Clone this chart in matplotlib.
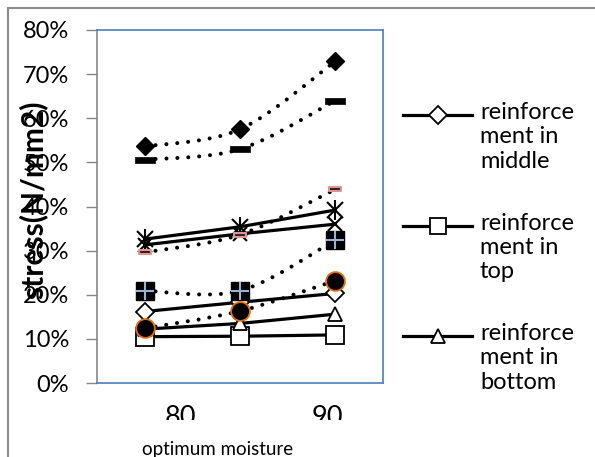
import numpy as np
import matplotlib
matplotlib.use("Agg")
import matplotlib.pyplot as plt
from matplotlib.path import Path
from matplotlib.patches import PathPatch
from matplotlib.lines import Line2D
from matplotlib.transforms import Bbox, TransformedBbox
from matplotlib.ticker import FuncFormatter

plt.rcParams["font.family"] = ["Lato", "DejaVu Sans"]

# ---- data -------------------------------------------------------------
x_pos = [0, 1, 2]
x_tick_labels = ["80", "90"]
y_ticks = [0.0, 0.1, 0.2, 0.3, 0.4, 0.5, 0.6, 0.7, 0.8]

legend_labels = ["reinforce\nment in\nmiddle",
                 "reinforce\nment in\ntop",
                 "reinforce\nment in\nbottom"]

middle = [0.162, 0.183, 0.203]
top = [0.105, 0.106, 0.109]
bottom = [0.122, 0.135, 0.156]
star_series = [0.326, 0.354, 0.392]
cross_series = [0.313, 0.338, 0.360]
diamond_fill = [0.536, 0.575, 0.729]
dash_black = [0.506, 0.530, 0.640]
dash_pink = [0.296, 0.336, 0.439]
square_fill = [0.209, 0.209, 0.324]
circle_fill = [0.124, 0.163, 0.232]

# ---- figure -----------------------------------------------------------
W, H = 595, 457
fig = plt.figure(figsize=(W / 100, H / 100), dpi=100)
fig.patch.set_facecolor("white")

L, R, T, B = 97, 383, 30, 383
ax = fig.add_axes([L / W, 1 - B / H, (R - L) / W, (B - T) / H])
ax.set_xlim(-0.5, 2.5)
ax.set_ylim(0, 0.8)

BLUE = "#4a7ebb"
GRAY = "#868686"
for side in ("top", "right", "bottom"):
    ax.spines[side].set_color(BLUE)
    ax.spines[side].set_linewidth(1.2)
ax.spines["left"].set_color(GRAY)
ax.spines["left"].set_linewidth(1.2)

ax.set_yticks(y_ticks)
ax.yaxis.set_major_formatter(FuncFormatter(lambda v, p: f"{v * 100:.0f}%"))
ax.tick_params(axis="y", direction="out", length=8, width=1, color=GRAY,
               labelsize=17, pad=12, labelcolor="black")
ax.set_xticks([])


def smooth_path(xs, ys):
    """Bezier path through the points, Excel-style smoothing."""
    pts = np.column_stack([xs, ys]).astype(float)
    n = len(pts)
    verts = [pts[0]]
    codes = [Path.MOVETO]
    for i in range(n - 1):
        p0 = pts[max(i - 1, 0)]
        p1 = pts[i]
        p2 = pts[i + 1]
        p3 = pts[min(i + 2, n - 1)]
        c1 = p1 + (p2 - p0) / 6.0
        c2 = p2 - (p3 - p1) / 6.0
        verts += [c1, c2, p2]
        codes += [Path.CURVE4] * 3
    return Path(verts, codes)


DOT = (0, (0.01, 2.7))


def dotted_curve(ys, z):
    patch = PathPatch(smooth_path(x_pos, ys), fill=False, edgecolor="black",
                      linewidth=2.9, linestyle=DOT, capstyle="round", zorder=z)
    ax.add_patch(patch)


# rectangular "dash" marker
dash_marker = Path([(-1, -0.33), (1, -0.33), (1, 0.33), (-1, 0.33), (-1, -0.33)],
                   [Path.MOVETO, Path.LINETO, Path.LINETO, Path.LINETO, Path.CLOSEPOLY])

SOLID_LW = 2.3

# legend series
ax.plot(x_pos, middle, color="black", lw=SOLID_LW, marker="D", ms=9,
        mfc="white", mec="black", mew=1.3, zorder=3)
ax.plot(x_pos, top, color="black", lw=SOLID_LW, marker="s", ms=12.5,
        mfc="white", mec="black", mew=1.3, zorder=3)
ax.plot(x_pos, bottom, color="black", lw=SOLID_LW, marker="^", ms=9.5,
        mfc="white", mec="black", mew=1.3, zorder=3)

# asterisk series
ax.plot(x_pos, star_series, color="black", lw=SOLID_LW, marker="x", ms=12,
        mec="black", mew=1.5, zorder=4)
ax.plot(x_pos, star_series, ls="none", marker="|", ms=15, mec="black",
        mew=1.5, zorder=4)
# cross series
ax.plot(x_pos, cross_series, color="black", lw=SOLID_LW, marker="x", ms=10,
        mec="black", mew=1.5, zorder=4)

# dotted smooth series
dotted_curve(diamond_fill, 5)
ax.plot(x_pos, diamond_fill, ls="none", marker="D", ms=9.5, mfc="black",
        mec="black", zorder=5)
dotted_curve(dash_black, 5)
ax.plot(x_pos, dash_black, ls="none", marker=dash_marker, ms=14.5,
        mfc="black", mec="black", mew=0.5, zorder=5)
dotted_curve(dash_pink, 5)
ax.plot(x_pos, dash_pink, ls="none", marker=dash_marker, ms=8.5,
        mfc="#3a1818", mec="#d99694", mew=1.5, zorder=5)
dotted_curve(square_fill, 6)
ax.plot(x_pos, square_fill, ls="none", marker="s", ms=12.5, mfc="black",
        mec="black", zorder=6)
ax.plot(x_pos, square_fill, ls="none", marker="+", ms=12.5,
        mec="#95b3d7", mew=1.5, zorder=6)
dotted_curve(circle_fill, 7)
ax.plot(x_pos, circle_fill, ls="none", marker="o", ms=13.5, mfc="black",
        mec="#e46c0a", mew=1.3, zorder=7)

# ---- category labels (lower half hidden below the frame edge) ----------
clip = TransformedBbox(Bbox.from_extents(0, (H - 420) / H, 1, 1), fig.transFigure)
for lab, px in zip(x_tick_labels, [180, 327]):
    t = fig.text(px / W, 1 - 425 / H, lab, ha="center", va="baseline",
                 fontsize=19.5)
    t.set_clip_box(clip)
    t.set_clip_on(True)

fig.text(218 / W, 1 - 455 / H, "optimum moisture", ha="center",
         va="baseline", fontsize=13.5)
fig.text(33 / W, 1 - 200 / H, "stress(N/mm2)", ha="center", va="center",
         rotation=90, fontsize=21.5, fontweight="bold")

# ---- legend -----------------------------------------------------------
legend_styles = [dict(marker="D", ms=9, mfc="white"),
                 dict(marker="s", ms=11, mfc="white"),
                 dict(marker="^", ms=9.5, mfc="white")]
for i, (lab, st) in enumerate(zip(legend_labels, legend_styles)):
    yc = 1 - (115 + 110.5 * i) / H
    fig.add_artist(Line2D([403 / W, 472 / W], [yc, yc], color="black",
                          lw=SOLID_LW, transform=fig.transFigure))
    fig.add_artist(Line2D([438 / W], [yc], ls="none", mec="black", mew=1.3,
                          transform=fig.transFigure, **st))
    fig.text(480 / W, yc + 13 / H, lab, ha="left", va="top", fontsize=17,
             linespacing=1.2, transform=fig.transFigure)

# ---- outer frame ------------------------------------------------------
fig.add_artist(Line2D([8 / W, 1], [1 - 8 / H, 1 - 8 / H], color="#8c8c8c",
                      lw=1.5, transform=fig.transFigure))
fig.add_artist(Line2D([8 / W, 8 / W], [0, 1 - 8 / H], color="#8c8c8c",
                      lw=1.5, transform=fig.transFigure))

fig.savefig("out.png", dpi=100)
